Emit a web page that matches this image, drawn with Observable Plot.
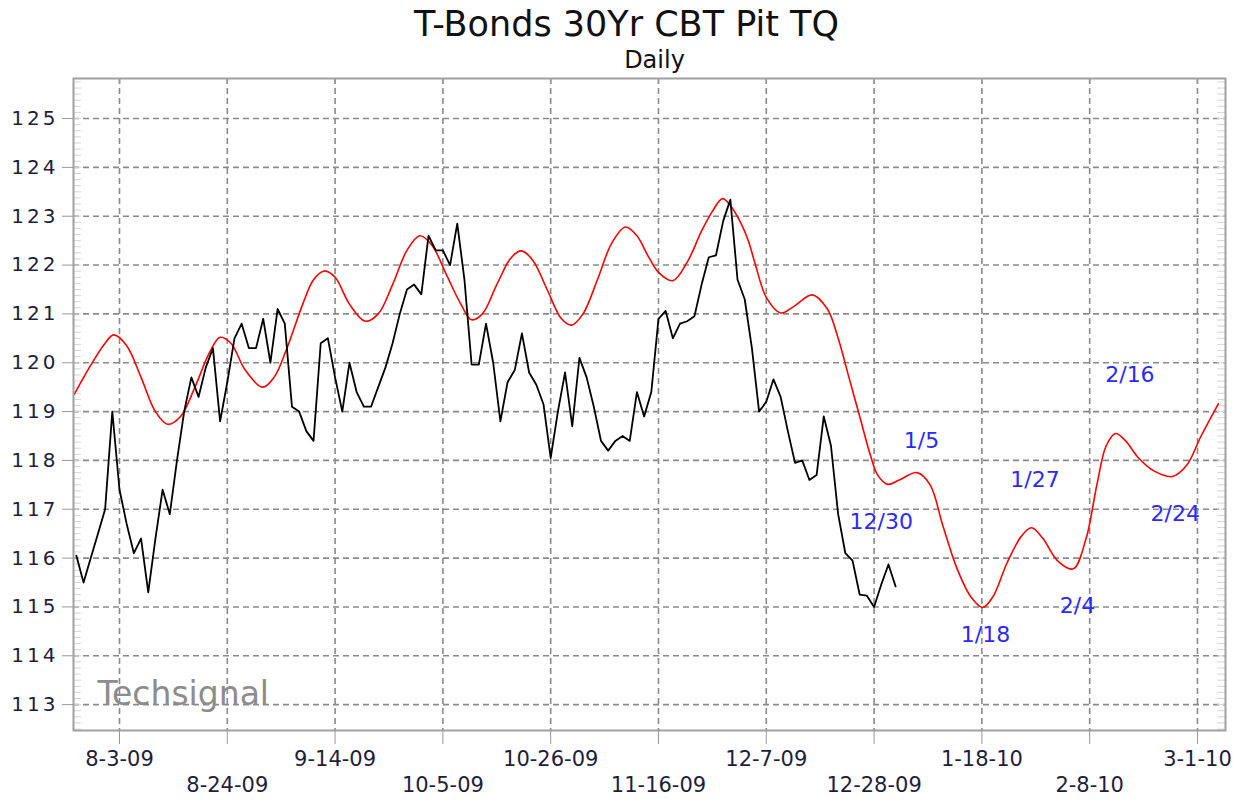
<!DOCTYPE html>
<html>
<head>
<meta charset="utf-8">
<script src="https://cdn.jsdelivr.net/npm/d3@7"></script>
<script src="https://cdn.jsdelivr.net/npm/@observablehq/plot@0.6"></script>
<style>
  html, body { margin: 0; padding: 0; background: #fff; overflow: hidden; }
  #header { position: relative; width: 1253px; height: 70px; font-family: "DejaVu Sans", sans-serif; color: #111; }
  #title { position: absolute; left: 0; width: 1253px; top: 2px; text-align: center; font-size: 35px; line-height: 44px; }
  #subtitle { position: absolute; left: 28px; width: 1253px; top: 46px; text-align: center; font-size: 24px; line-height: 28px; }
  svg g[aria-label="y-axis tick label"] text { letter-spacing: 3px; }
</style>
</head>
<body>
<div id="header"><div id="title">T-Bonds 30Yr CBT Pit TQ</div><div id="subtitle">Daily</div></div>
<div id="chart"></div>
<script>
// ---- data (x = trading-day index, 0 = 8-3-09) ----
const blackStart = -6;
const blackValues = [
  116.05, 115.5, 116.0, 116.5, 117.0, 119.0,                 // -6 .. -1
  117.4, 116.7, 116.1, 116.4, 115.3, 116.4, 117.4, 116.9, 118.0, 119.0, // 0..9
  119.7, 119.3, 119.9, 120.3, 118.8, 119.6, 120.5, 120.8, 120.3, 120.3, // 10..19
  120.9, 120.0, 121.1, 120.8, 119.1, 119.0, 118.6, 118.4, 120.4, 120.5, // 20..29
  119.7, 119.0, 120.0, 119.4, 119.1, 119.1, 119.5, 119.9, 120.4, 121.0, // 30..39
  121.5, 121.6, 121.4, 122.6, 122.3, 122.3, 122.0, 122.85, 121.7, 119.96, // 40..49
  119.96, 120.8, 120.0, 118.8, 119.6, 119.85, 120.6, 119.8, 119.55, 119.15, // 50..59
  118.05, 119.0, 119.8, 118.7, 120.1, 119.7, 119.1, 118.4, 118.2, 118.4, // 60..69
  118.5, 118.4, 119.4, 118.9, 119.4, 120.9, 121.06, 120.5, 120.8, 120.85, // 70..79
  120.95, 121.6, 122.16, 122.2, 122.9, 123.34, 121.7, 121.3, 120.3, 119.0, // 80..89
  119.2, 119.66, 119.3, 118.6, 117.95, 118.0, 117.6, 117.7, 118.9, 118.3, // 90..99
  116.9, 116.1, 115.95, 115.25, 115.23, 115.0, 115.46, 115.87, 115.42     // 100..108
];
const redIndex = [
  -6.3, -4, -2, -0.8, 1, 3, 5, 6.7, 8.5, 10.5, 12.5, 14, 15.5, 17.5, 19.9, 21.5, 23.2, 25.5, 27, 28.5,
  30, 32, 34.2, 36, 38, 40, 41.8, 43.5, 45.5, 47.5, 49, 50.5, 52.5, 54.5, 55.9, 57.5, 59.5, 61.5, 62.9, 64.5,
  66.5, 68.5, 70.4, 72, 73.5, 75, 77, 79, 81, 82.5, 83.9, 85, 86.5, 87.5, 88.5, 90, 92, 94, 96.4, 98.5,
  100, 101.5, 103, 104.5, 105.5, 106.9, 108.5, 111, 112.8, 114.5, 116.5, 118.5, 120.1, 121.5, 123.5, 125.5, 126.9, 128.5, 130.5, 132.7,
  134.5, 136, 137.3, 138.6, 140, 141.8, 144, 146.5, 148.5, 150.5, 152.9
];
const redValues = [
  119.35, 119.95, 120.4, 120.57, 120.35, 119.7, 119.0, 118.74, 118.9, 119.5, 120.2, 120.52, 120.4, 119.85, 119.5, 119.7, 120.26, 121.2, 121.7, 121.88,
  121.75, 121.2, 120.85, 121.0, 121.6, 122.3, 122.6, 122.4, 121.8, 121.2, 120.88, 121.0, 121.6, 122.15, 122.29, 122.1, 121.5, 120.9, 120.77, 121.0,
  121.7, 122.45, 122.78, 122.6, 122.2, 121.85, 121.68, 122.06, 122.7, 123.1, 123.36, 123.22, 122.85, 122.5, 122.0, 121.34, 121.02, 121.17, 121.39, 121.1,
  120.5, 119.7, 118.9, 118.1, 117.7, 117.51, 117.6, 117.75, 117.5, 116.7, 115.8, 115.2, 114.99, 115.2, 115.9, 116.45, 116.62, 116.4, 115.95, 115.78,
  116.4, 117.5, 118.3, 118.55, 118.4, 118.05, 117.78, 117.67, 117.9, 118.5, 119.16
];
const xTickIndex = [0, 15, 30, 45, 60, 75, 90, 105, 120, 135, 150];
const xTickLabels = ["8-3-09", "8-24-09", "9-14-09", "10-5-09", "10-26-09", "11-16-09", "12-7-09", "12-28-09", "1-18-10", "2-8-10", "3-1-10"];
const yTicks = [113, 114, 115, 116, 117, 118, 119, 120, 121, 122, 123, 124, 125];
const noteLabels = ["12/30", "1/5", "1/18", "1/27", "2/4", "2/16", "2/24"];
const noteIndex = [106.0, 111.6, 120.5, 127.4, 133.3, 140.6, 146.9];
const noteValues = [116.73, 118.39, 114.43, 117.59, 115.03, 119.76, 116.91];

// ---- build tables ----
const black = blackValues.map((v, i) => ({x: blackStart + i, y: v}));
const red = redIndex.map((x, i) => ({x, y: redValues[i]}));
const notes = noteLabels.map((t, i) => ({t, x: noteIndex[i], y: noteValues[i]}));
const xMin = -6.4, xMax = 153.9, yMin = 112.47, yMax = 125.82;
const minor = d3.range(Math.ceil(yMin * 8) / 8, yMax, 0.125);
const row1 = xTickIndex.filter((d, i) => i % 2 === 0);
const row2 = xTickIndex.filter((d, i) => i % 2 === 1);
const labelOf = d => xTickLabels[xTickIndex.indexOf(d)];

const grid = {stroke: "#8a8a8a", strokeWidth: 1.6, strokeDasharray: "6,4", strokeOpacity: 1};

const chart = Plot.plot({
  width: 1253, height: 730,
  marginTop: 8, marginLeft: 73, marginRight: 28, marginBottom: 70,
  x: {domain: [xMin, xMax]},
  y: {domain: [yMin, yMax]},
  style: {fontFamily: "DejaVu Sans, sans-serif", color: "#1e1e3c", background: "#fff"},
  marks: [
    Plot.ruleY(yTicks, grid),
    Plot.ruleX(xTickIndex, grid),
    Plot.ruleY(minor, {x1: xMin, x2: xMin + 1.1, stroke: "#d6d6d6", strokeWidth: 1}),
    Plot.ruleY(minor, {x1: xMax - 1.1, x2: xMax, stroke: "#d6d6d6", strokeWidth: 1}),
    Plot.ruleX(xTickIndex, {y1: yMax, y2: yMax - 0.12, stroke: "#999", strokeWidth: 1.5}),
    Plot.text(["Techsignal"], {frameAnchor: "bottom-left", dx: 24, dy: -26, fill: "#8c8c8c", fontSize: 33, fontFamily: "DejaVu Sans, sans-serif", textAnchor: "start"}),
    Plot.line(red, {x: "x", y: "y", stroke: "#ff0000", strokeWidth: 1.6, curve: "catmull-rom"}),
    Plot.line(black, {x: "x", y: "y", stroke: "#000", strokeWidth: 1.8}),
    Plot.text(notes, {x: "x", y: "y", text: "t", fill: "#2a2aff", fontSize: 22, fontFamily: "DejaVu Sans, sans-serif"}),
    Plot.frame({stroke: "#a0a0a0", strokeWidth: 2}),
    Plot.axisY({ticks: yTicks, tickSize: 11, tickPadding: 4, fontSize: 20, stroke: "#999", label: null, tickFormat: d => String(d)}),
    Plot.axisX({ticks: row1, tickSize: 14, tickPadding: 7, fontSize: 21, stroke: "#999", label: null, tickFormat: labelOf}),
    Plot.axisX({ticks: row2, tickSize: 14, tickPadding: 33, fontSize: 21, stroke: "#999", label: null, tickFormat: labelOf})
  ]
});
document.getElementById("chart").appendChild(chart);
</script>
</body>
</html>
